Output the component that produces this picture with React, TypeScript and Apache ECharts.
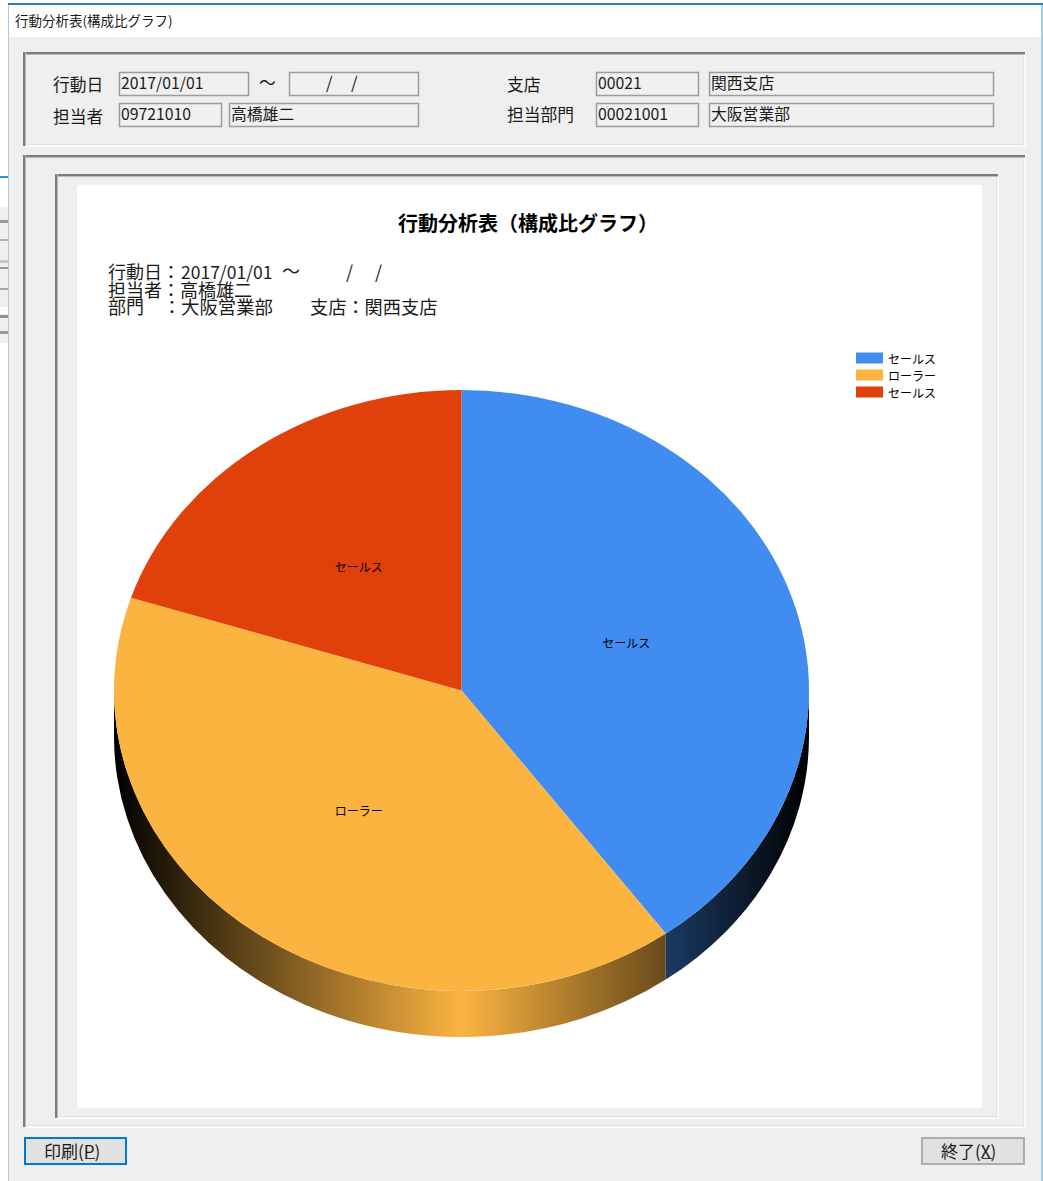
import React, { useEffect, useRef } from "react";
import * as echarts from "echarts";

const categories = ["セールス", "ローラー", "セールス"];
const sliceValues = [40, 40, 20];
const sliceColors = ["#418cf0", "#fcb441", "#e0400a"];
const chartTitle = "行動分析表（構成比グラフ）";
const windowTitle = "行動分析表(構成比グラフ)";

const FONT = '"Noto Sans CJK JP", "Noto Sans", sans-serif';
const CX = 461.5, CY = 690.5, RX = 347.5, RY = 300.5, DEPTH = 46;

const total = sliceValues.reduce((a, b) => a + b, 0);
const point = (deg: number, k = 1, dy = 0) => {
  const t = (deg * Math.PI) / 180;
  return [CX + RX * k * Math.sin(t), CY - RY * k * Math.cos(t) + dy];
};
const shade = (hex: string) => ({
  type: "linear", x: CX - RX, y: 0, x2: CX + RX, y2: 0, global: true,
  colorStops: [
    { offset: 0, color: "#000000" },
    { offset: 0.5, color: hex },
    { offset: 1, color: "#000000" },
  ],
});

function sliceSeries(i: number) {
  const startValue = sliceValues.slice(0, i).reduce((a, b) => a + b, 0);
  return {
    type: "custom",
    name: `${categories[i]}#${i}`,
    coordinateSystem: "none",
    silent: true,
    itemStyle: { color: sliceColors[i] },
    data: [[sliceValues[i]]],
    renderItem: (_p: any, api: any) => {
      const v = api.value(0) as number;
      const a0 = (startValue / total) * 360;
      const a1 = ((startValue + v) / total) * 360;
      const [x0, y0] = point(a0);
      const [x1, y1] = point(a1);
      const large = a1 - a0 > 180 ? 1 : 0;
      const children: any[] = [];
      const w0 = Math.max(a0, 90), w1 = Math.min(a1, 270);
      if (w1 > w0) {
        const [ax, ay] = point(w0);
        const [bx, by] = point(w1);
        children.push({
          type: "path",
          shape: {
            pathData: `M${ax} ${ay}A${RX} ${RY} 0 0 1 ${bx} ${by}L${bx} ${by + DEPTH}A${RX} ${RY} 0 0 0 ${ax} ${ay + DEPTH}Z`,
          },
          style: { fill: shade(sliceColors[i]) },
        });
      }
      children.push({
        type: "path",
        shape: { pathData: `M${CX} ${CY}L${x0} ${y0}A${RX} ${RY} 0 ${large} 1 ${x1} ${y1}Z` },
        style: { fill: sliceColors[i] },
      });
      const [lx, ly] = point((a0 + a1) / 2, 0.5);
      children.push({
        type: "text",
        x: lx - 0.5, y: ly - 2,
        z2: 10,
        style: {
          text: categories[i], fill: "#000", fontSize: 12, fontFamily: FONT,
          align: "center", verticalAlign: "middle",
        },
      });
      return { type: "group", children };
    },
  };
}

const rect = (x: number, y: number, w: number, h: number, fill: string, extra: any = {}) => ({
  type: "rect", silent: true, shape: { x, y, width: w, height: h }, style: { fill, ...extra },
});
const text = (x: number, y: number, t: string, fontSize = 16.8, fill = "#1a1a1a", fontWeight = "normal") => ({
  type: "text", silent: true, x, y,
  style: { text: t, fontSize, fontFamily: FONT, fill, fontWeight, verticalAlign: "middle", align: "left" },
});
const field = (x: number, y: number, w: number, h: number, t: string) => [
  { type: "rect", silent: true, shape: { x: x + 0.5, y: y + 0.5, width: w - 1, height: h - 1 },
    style: { fill: "#f0f0f0", stroke: "#9c9c9c", lineWidth: 1.5 } },
  text(x + 2, y + h / 2 - 2, t, 15.8),
];
const groupBox = (x: number, y: number, w: number, h: number) => [
  rect(x + w - 1, y, 2, h, "#f9f9f9"),
  rect(x, y + h - 1, w + 1, 2, "#f9f9f9"),
  rect(x + w - 2, y + 3, 1, h - 3, "#e2e2e2"),
  rect(x + 3, y + h - 2, w - 4, 1, "#e2e2e2"),
  rect(x, y, w, 2, "#7c7c7c"),
  rect(x, y + 2, w, 1, "#bdbdbd"),
  rect(x, y, 2, h, "#7c7c7c"),
  rect(x + 2, y, 1, h, "#bdbdbd"),
];

const stripLines: [number, number, string][] = [
  [220, 3, "#9a9a9a"], [239, 2, "#b0b0b0"], [260, 3, "#c4c4c4"], [267, 2, "#9a9a9a"],
  [288, 2, "#a8a8a8"], [315, 3, "#8f8f8f"], [331, 3, "#9a9a9a"],
];

const graphics: any[] = [
  rect(0, 0, 1043, 1181, "#ffffff"),
  // left strip of the window behind
  rect(0, 176, 8, 2, "#2a8fe0"),
  rect(0, 207, 8, 136, "#efefef"),
  rect(0, 307, 8, 7, "#fbfbfb"),
  ...stripLines.map(([y, h, c]) => rect(0, y, 8, h, c)),
  // window
  rect(9, 37, 1032, 1144, "#efefef"),
  rect(8, 4, 1, 1177, "#aacde6"),
  rect(1041, 4, 2, 1177, "#aacde6"),
  rect(8, 3, 1035, 2, "#2d80c6"),
  text(15, 20, windowTitle, 13.5),
  ...groupBox(23, 52, 1002, 94),
  ...groupBox(23, 155, 1002, 972),
  ...groupBox(55, 174, 943, 944),
  rect(77, 185, 905, 923, "#ffffff"),
  text(53, 83.5, "行動日"), text(53, 115.5, "担当者"),
  text(507, 83.5, "支店"), text(507, 113.5, "担当部門"),
  text(259, 82, "～"),
  ...field(119, 72, 130, 24, "2017/01/01"),
  ...field(289, 72, 130, 24, ""),
  text(326, 82, "/"), text(351, 82, "/"),
  ...field(119, 103, 103, 24, "09721010"),
  ...field(229, 103, 190, 24, "高橋雄二"),
  ...field(596, 72, 103, 24, "00021"),
  ...field(709, 72, 285, 24, "関西支店"),
  ...field(596, 103, 103, 24, "00021001"),
  ...field(709, 103, 285, 24, "大阪営業部"),
  text(108, 271, "行動日：", 18), text(181, 271, "2017/01/01", 17.5),
  text(282, 270, "～", 18), text(346, 271, "/", 18), text(375, 271, "/", 18),
  text(108, 288.5, "担当者：高橋雄二", 18),
  text(108, 306, "部門", 18), text(163, 306, "：", 18), text(181, 306, "大阪営業部", 18.4),
  text(310, 306, "支店：関西支店", 18.2),
  // buttons
  { type: "rect", silent: true, shape: { x: 25, y: 1138, width: 101, height: 26 }, style: { fill: "#e1e1e1", stroke: "#0078d7", lineWidth: 2 } },
  text(44, 1150, "印刷(P)", 17),
  rect(85, 1158, 10, 1, "#333333"),
  { type: "rect", silent: true, shape: { x: 922, y: 1138, width: 102, height: 26 }, style: { fill: "#e1e1e1", stroke: "#adadad", lineWidth: 2 } },
  text(941, 1150, "終了(X)", 17),
  rect(982, 1158, 10, 1, "#333333"),
];

export default function App() {
  const ref = useRef<HTMLDivElement>(null);
  useEffect(() => {
    document.body.style.margin = "0";
    const chart = echarts.init(ref.current!, null, { renderer: "svg" });
    chart.setOption({
      animation: false,
      backgroundColor: "#ffffff",
      title: {
        text: chartTitle, left: 398, top: 212, padding: 0, z: 10,
        textStyle: { fontFamily: FONT, fontSize: 20, fontWeight: "bold", color: "#000" },
      },
      legend: {
        orient: "vertical", left: 856, top: 352, padding: 0, itemWidth: 27, itemHeight: 11, itemGap: 5,
        selectedMode: false, icon: "rect", z: 10,
        data: categories.map((c, i) => `${c}#${i}`),
        formatter: (n: string) => n.split("#")[0],
        textStyle: { fontFamily: FONT, fontSize: 12, color: "#000" },
      },
      graphic: { elements: graphics },
      series: categories.map((_, i) => sliceSeries(i)),
    });
    return () => chart.dispose();
  }, []);
  return <div ref={ref} style={{ width: 1043, height: 1181 }} />;
}
